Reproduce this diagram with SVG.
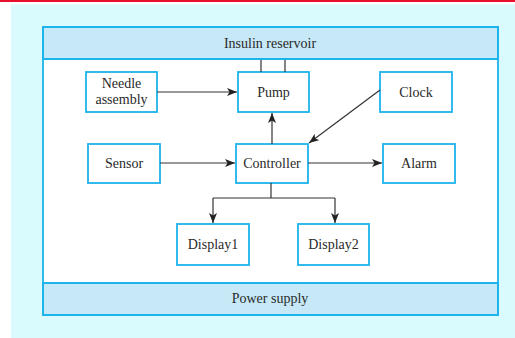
<svg xmlns="http://www.w3.org/2000/svg" width="515" height="338" viewBox="0 0 515 338">
<style>
.box{fill:#ffffff;stroke:#1db3ec;stroke-width:1.8}
.band{fill:#c6e8f7;stroke:#1db3ec;stroke-width:2}
.t{font-family:"Liberation Serif","Times New Roman",serif;font-size:14px;fill:#2a2a2a;text-anchor:middle}
.c{fill:none;stroke:#333333;stroke-width:1.2}
</style>
<defs>
<marker id="ah" viewBox="0 0 10 8" refX="10" refY="4" markerWidth="10" markerHeight="8" markerUnits="userSpaceOnUse" orient="auto">
<path d="M0,0 L10,4 L0,8 L2.5,4 Z" fill="#222222"/>
</marker>
</defs>
<rect x="0" y="0" width="515" height="2" fill="#e8112d"/>
<rect x="11" y="4.5" width="504" height="334" fill="#d9fbfd"/>
<g id="system">
<rect x="43" y="27" width="455" height="288" class="box" stroke-width="2"/>
</g>
<g id="reservoir">
<rect x="43" y="27" width="455" height="32" class="band"/>
<text x="270" y="47.5" class="t">Insulin reservoir</text>
</g>
<g id="power">
<rect x="43" y="283" width="455" height="32" class="band"/>
<text x="270" y="303" class="t">Power supply</text>
</g>
<g id="needle">
<rect x="86" y="72" width="71" height="40" class="box"/>
<text x="121.5" y="87.5" class="t">Needle</text>
<text x="121.5" y="104" class="t">assembly</text>
</g>
<g id="pump">
<rect x="238" y="72" width="71" height="40" class="box"/>
<text x="273.5" y="96.5" class="t">Pump</text>
</g>
<g id="clock">
<rect x="380" y="72" width="72" height="40" class="box"/>
<text x="416" y="96.5" class="t">Clock</text>
</g>
<g id="sensor">
<rect x="88" y="144" width="72" height="39" class="box"/>
<text x="124" y="168" class="t">Sensor</text>
</g>
<g id="controller">
<rect x="236" y="144" width="72" height="39" class="box"/>
<text x="272" y="168" class="t">Controller</text>
</g>
<g id="alarm">
<rect x="383" y="144" width="72" height="39" class="box"/>
<text x="419" y="168" class="t">Alarm</text>
</g>
<g id="display1">
<rect x="177" y="224" width="72" height="41" class="box"/>
<text x="213" y="249" class="t">Display1</text>
</g>
<g id="display2">
<rect x="298" y="224" width="71" height="41" class="box"/>
<text x="333.5" y="249" class="t">Display2</text>
</g>
<g id="connectors">
<line x1="261" y1="60" x2="261" y2="72" class="c"/>
<line x1="285" y1="60" x2="285" y2="72" class="c"/>
<line x1="157" y1="92" x2="237" y2="92" class="c" marker-end="url(#ah)"/>
<line x1="160" y1="163" x2="235" y2="163" class="c" marker-end="url(#ah)"/>
<line x1="272" y1="144" x2="272" y2="113" class="c" marker-end="url(#ah)"/>
<line x1="380" y1="90" x2="309" y2="143" class="c" marker-end="url(#ah)"/>
<line x1="308" y1="163" x2="382" y2="163" class="c" marker-end="url(#ah)"/>
<polyline points="271,183 271,198" class="c"/>
<polyline points="213,198 335,198" class="c"/>
<line x1="213" y1="198" x2="213" y2="223" class="c" marker-end="url(#ah)"/>
<line x1="335" y1="198" x2="335" y2="223" class="c" marker-end="url(#ah)"/>
</g>
</svg>
